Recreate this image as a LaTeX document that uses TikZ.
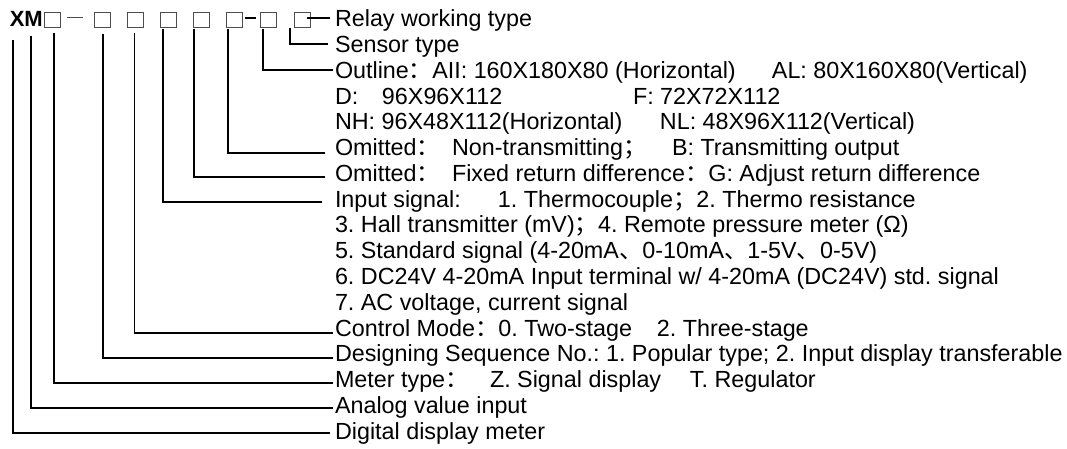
\documentclass[tikz,border=0pt]{standalone}
\usepackage{fontspec}
\setmainfont{Liberation Sans}
\newfontfamily\cjk{Noto Sans CJK SC}
\usetikzlibrary{calc}
\newlength\px \setlength\px{0.75pt}
\newcommand\fcolon{{\cjk ：}}
\newcommand\fsemi{{\cjk ；}}
\newcommand\idcomma{{\cjk 、}}
\newcommand\lblfont{\fontsize{17.5pt}{20pt}\selectfont}
\frenchspacing
\begin{document}
\begin{tikzpicture}[x=0.75pt,y=-0.75pt,
  conn/.style={line width=1.2pt,black},
  slot/.style={draw=black!70,line width=0.6pt,minimum width=16\px,minimum height=15.5\px,inner sep=0pt,outer sep=0pt},
  lbl/.style={anchor=base west,inner sep=0pt,outer sep=0pt,font=\lblfont}]
\useasboundingbox (0,0) rectangle (1067,449);
% model code
\node[anchor=base west,inner sep=0pt,font=\fontsize{16.5pt}{19pt}\selectfont\bfseries] (xm) at (9.5,27) {XM};
\node[slot] (b1) at (52.2,19.75) {};
\node[slot] (b2) at (102.2,19.75) {};
\node[slot] (b3) at (135.3,19.75) {};
\node[slot] (b4) at (168,19.75) {};
\node[slot] (b5) at (201,19.75) {};
\node[slot] (b6) at (234.5,19.75) {};
\node[slot] (b7) at (268.5,19.75) {};
\node[slot] (b8) at (302,19.75) {};
\draw[draw=black!70,line width=0.6pt] ($(b1.east)+(7,-2.75)$) -- ++(16,0);
\draw[line width=1.4pt] ($(b6.east)+(2.5,-1.75)$) -- ++(11,0);
% texts
\node[lbl] (t0) at (335,27) {Relay working type};
\node[lbl] (t1) at (335,52.75) {Sensor type};
\node[lbl] (t2) at (335,78.5) {\makebox[437\px][l]{Outline\fcolon AII: 160X180X80 (Horizontal)}AL: 80X160X80(Vertical)};
\node[lbl] (t3) at (335,104.25) {\makebox[47\px][l]{D:}\makebox[251\px][l]{96X96X112}F: 72X72X112};
\node[lbl] (t4) at (335,130) {\makebox[325\px][l]{NH: 96X48X112(Horizontal)}NL: 48X96X112(Vertical)};
\node[lbl] (t5) at (335,155.75) {\makebox[117\px][l]{Omitted\fcolon}\makebox[220\px][l]{Non-transmitting\fsemi}B: Transmitting output};
\node[lbl] (t6) at (335,181.5) {\makebox[117\px][l]{Omitted\fcolon}Fixed return difference\fcolon G: Adjust return difference};
\node[lbl] (t7) at (335,207.25) {\makebox[163\px][l]{Input signal:}1. Thermocouple\fsemi 2. Thermo resistance};
\node[lbl] (t8) at (335,233) {3. Hall transmitter (mV)\fsemi 4. Remote pressure meter (Ω)};
\node[lbl] (t9) at (335,258.75) {5. Standard signal (4-20mA\idcomma 0-10mA\idcomma 1-5V\idcomma 0-5V)};
\node[lbl] (t10) at (335,284.5) {6. DC24V 4-20mA Input terminal w/ 4-20mA (DC24V) std. signal};
\node[lbl] (t11) at (335,310.25) {7. AC voltage, current signal};
\node[lbl] (t12) at (335,336) {\makebox[322\px][l]{Control Mode\fcolon 0. Two-stage}2. Three-stage};
\node[lbl] (t13) at (335,361.75) {Designing Sequence No.: 1. Popular type; 2. Input display transferable};
\node[lbl] (t14) at (335,387.5) {\makebox[155\px][l]{Meter type\fcolon}\makebox[200\px][l]{Z. Signal display}T. Regulator};
\node[lbl] (t15) at (335,413.25) {Analog value input};
\node[lbl] (t16) at (335,439) {Digital display meter};
% connector start points
\coordinate (c16) at (13,40);
\coordinate (c15) at (31,36);
\coordinate (c14) at ($(b1.south)+(2,5.5)$);
\coordinate (c13) at ($(b2.south)+(1,6.5)$);
\coordinate (c12) at ($(b3.south)+(-1,5.5)$);
\coordinate (c7) at ($(b4.south)+(-5,1.5)$);
\coordinate (c6) at ($(b5.south)+(-7,1.5)$);
\coordinate (c5) at ($(b6.south)+(-6.5,1.5)$);
\coordinate (c2) at ($(b7.south)+(-5.5,1.5)$);
\coordinate (c1) at ($(b8.south)+(-12,0.5)$);
% connectors
\draw[conn] ($(b8.east)+(-3,-1.75)$) -- ($(t0.base west)+(-5,-9)$);
\draw[conn] (c1) |- ($(t1.base west)+(-7,-8.75)$);
\draw[conn] (c2) |- ($(t2.base west)+(-2,-8.5)$);
\draw[conn] (c5) |- ($(t5.base west)+(-10,-2.75)$);
\draw[conn] (c6) |- ($(t6.base west)+(-10,-4.5)$);
\draw[conn] (c7) |- ($(t7.base west)+(-13,-5.25)$);
\draw[conn] (c12) |- ($(t12.base west)+(-2,-3)$);
\draw[conn] (c13) |- ($(t13.base west)+(-2,-3.75)$);
\draw[conn] (c14) |- ($(t14.base west)+(-2,-4.5)$);
\draw[conn] (c15) |- ($(t15.base west)+(-2,-5.25)$);
\draw[conn] (c16) |- ($(t16.base west)+(-5,-6)$);
\end{tikzpicture}
\end{document}
